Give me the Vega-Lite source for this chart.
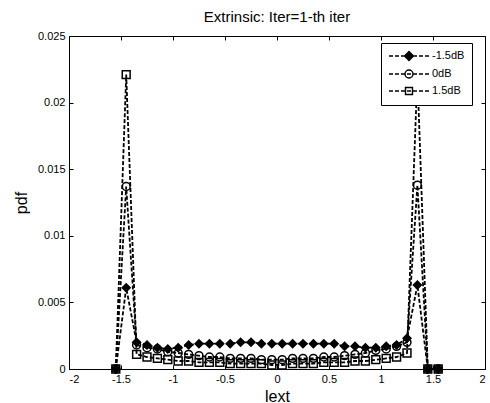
{
  "$schema": "https://vega.github.io/schema/vega-lite/v6.json",
  "width": 416,
  "height": 333,
  "autosize": {"type": "none"},
  "padding": {"left": 69, "top": 36, "right": 5, "bottom": 34},
  "background": "white",
  "title": {"text": "Extrinsic: Iter=1-th iter", "fontSize": 15, "font": "Liberation Sans", "fontWeight": "normal", "color": "black", "frame": "group", "offset": 5, "anchor": "middle"},
  "config": {
    "view": {"stroke": "black", "strokeWidth": 1},
    "axis": {"domainColor": "black", "tickColor": "black", "labelColor": "black", "labelFont": "Liberation Sans", "labelFontSize": 11, "titleFont": "Liberation Sans", "titleFontSize": 16, "titleFontWeight": "normal", "titleColor": "black", "grid": false, "tickSize": -4, "labelPadding": 8}
  },
  "data": {"values": [
    {"x": -1.55, "pdf": 0, "series": "-1.5dB"},
    {"x": -1.45, "pdf": 0.0061, "series": "-1.5dB"},
    {"x": -1.35, "pdf": 0.0020, "series": "-1.5dB"},
    {"x": -1.25, "pdf": 0.0018, "series": "-1.5dB"},
    {"x": -1.15, "pdf": 0.0016, "series": "-1.5dB"},
    {"x": -1.05, "pdf": 0.0015, "series": "-1.5dB"},
    {"x": -0.95, "pdf": 0.0016, "series": "-1.5dB"},
    {"x": -0.85, "pdf": 0.0018, "series": "-1.5dB"},
    {"x": -0.75, "pdf": 0.0019, "series": "-1.5dB"},
    {"x": -0.65, "pdf": 0.0019, "series": "-1.5dB"},
    {"x": -0.55, "pdf": 0.0019, "series": "-1.5dB"},
    {"x": -0.45, "pdf": 0.0019, "series": "-1.5dB"},
    {"x": -0.35, "pdf": 0.0020, "series": "-1.5dB"},
    {"x": -0.25, "pdf": 0.0020, "series": "-1.5dB"},
    {"x": -0.15, "pdf": 0.0019, "series": "-1.5dB"},
    {"x": -0.05, "pdf": 0.0019, "series": "-1.5dB"},
    {"x": 0.05, "pdf": 0.0019, "series": "-1.5dB"},
    {"x": 0.15, "pdf": 0.0019, "series": "-1.5dB"},
    {"x": 0.25, "pdf": 0.0019, "series": "-1.5dB"},
    {"x": 0.35, "pdf": 0.0019, "series": "-1.5dB"},
    {"x": 0.45, "pdf": 0.0019, "series": "-1.5dB"},
    {"x": 0.55, "pdf": 0.0019, "series": "-1.5dB"},
    {"x": 0.65, "pdf": 0.0017, "series": "-1.5dB"},
    {"x": 0.75, "pdf": 0.0017, "series": "-1.5dB"},
    {"x": 0.85, "pdf": 0.0016, "series": "-1.5dB"},
    {"x": 0.95, "pdf": 0.0016, "series": "-1.5dB"},
    {"x": 1.05, "pdf": 0.0017, "series": "-1.5dB"},
    {"x": 1.15, "pdf": 0.0018, "series": "-1.5dB"},
    {"x": 1.25, "pdf": 0.0023, "series": "-1.5dB"},
    {"x": 1.35, "pdf": 0.0063, "series": "-1.5dB"},
    {"x": 1.45, "pdf": 0, "series": "-1.5dB"},
    {"x": 1.55, "pdf": 0, "series": "-1.5dB"},
    {"x": -1.55, "pdf": 0, "series": "0dB"},
    {"x": -1.45, "pdf": 0.0137, "series": "0dB"},
    {"x": -1.35, "pdf": 0.0018, "series": "0dB"},
    {"x": -1.25, "pdf": 0.0016, "series": "0dB"},
    {"x": -1.15, "pdf": 0.0015, "series": "0dB"},
    {"x": -1.05, "pdf": 0.0013, "series": "0dB"},
    {"x": -0.95, "pdf": 0.0012, "series": "0dB"},
    {"x": -0.85, "pdf": 0.0011, "series": "0dB"},
    {"x": -0.75, "pdf": 0.0010, "series": "0dB"},
    {"x": -0.65, "pdf": 0.0009, "series": "0dB"},
    {"x": -0.55, "pdf": 0.0009, "series": "0dB"},
    {"x": -0.45, "pdf": 0.0008, "series": "0dB"},
    {"x": -0.35, "pdf": 0.0008, "series": "0dB"},
    {"x": -0.25, "pdf": 0.0008, "series": "0dB"},
    {"x": -0.15, "pdf": 0.0007, "series": "0dB"},
    {"x": -0.05, "pdf": 0.0007, "series": "0dB"},
    {"x": 0.05, "pdf": 0.0007, "series": "0dB"},
    {"x": 0.15, "pdf": 0.0008, "series": "0dB"},
    {"x": 0.25, "pdf": 0.0008, "series": "0dB"},
    {"x": 0.35, "pdf": 0.0008, "series": "0dB"},
    {"x": 0.45, "pdf": 0.0009, "series": "0dB"},
    {"x": 0.55, "pdf": 0.0009, "series": "0dB"},
    {"x": 0.65, "pdf": 0.0010, "series": "0dB"},
    {"x": 0.75, "pdf": 0.0011, "series": "0dB"},
    {"x": 0.85, "pdf": 0.0012, "series": "0dB"},
    {"x": 0.95, "pdf": 0.0014, "series": "0dB"},
    {"x": 1.05, "pdf": 0.0015, "series": "0dB"},
    {"x": 1.15, "pdf": 0.0017, "series": "0dB"},
    {"x": 1.25, "pdf": 0.0020, "series": "0dB"},
    {"x": 1.35, "pdf": 0.0138, "series": "0dB"},
    {"x": 1.45, "pdf": 0, "series": "0dB"},
    {"x": 1.55, "pdf": 0, "series": "0dB"},
    {"x": -1.55, "pdf": 0, "series": "1.5dB"},
    {"x": -1.45, "pdf": 0.0221, "series": "1.5dB"},
    {"x": -1.35, "pdf": 0.0011, "series": "1.5dB"},
    {"x": -1.25, "pdf": 0.0009, "series": "1.5dB"},
    {"x": -1.15, "pdf": 0.0008, "series": "1.5dB"},
    {"x": -1.05, "pdf": 0.0007, "series": "1.5dB"},
    {"x": -0.95, "pdf": 0.0006, "series": "1.5dB"},
    {"x": -0.85, "pdf": 0.0006, "series": "1.5dB"},
    {"x": -0.75, "pdf": 0.0005, "series": "1.5dB"},
    {"x": -0.65, "pdf": 0.0005, "series": "1.5dB"},
    {"x": -0.55, "pdf": 0.0005, "series": "1.5dB"},
    {"x": -0.45, "pdf": 0.0004, "series": "1.5dB"},
    {"x": -0.35, "pdf": 0.0004, "series": "1.5dB"},
    {"x": -0.25, "pdf": 0.0004, "series": "1.5dB"},
    {"x": -0.15, "pdf": 0.0004, "series": "1.5dB"},
    {"x": -0.05, "pdf": 0.0003, "series": "1.5dB"},
    {"x": 0.05, "pdf": 0.0003, "series": "1.5dB"},
    {"x": 0.15, "pdf": 0.0004, "series": "1.5dB"},
    {"x": 0.25, "pdf": 0.0004, "series": "1.5dB"},
    {"x": 0.35, "pdf": 0.0004, "series": "1.5dB"},
    {"x": 0.45, "pdf": 0.0005, "series": "1.5dB"},
    {"x": 0.55, "pdf": 0.0005, "series": "1.5dB"},
    {"x": 0.65, "pdf": 0.0005, "series": "1.5dB"},
    {"x": 0.75, "pdf": 0.0006, "series": "1.5dB"},
    {"x": 0.85, "pdf": 0.0006, "series": "1.5dB"},
    {"x": 0.95, "pdf": 0.0007, "series": "1.5dB"},
    {"x": 1.05, "pdf": 0.0008, "series": "1.5dB"},
    {"x": 1.15, "pdf": 0.0009, "series": "1.5dB"},
    {"x": 1.25, "pdf": 0.0012, "series": "1.5dB"},
    {"x": 1.35, "pdf": 0.0221, "series": "1.5dB"},
    {"x": 1.45, "pdf": 0, "series": "1.5dB"},
    {"x": 1.55, "pdf": 0, "series": "1.5dB"}
  ]},
  "resolve": {"axis": {"x": "independent", "y": "independent"}, "scale": {"shape": "independent"}},
  "layer": [
    {
      "mark": {"type": "line", "strokeDash": [4, 2], "strokeWidth": 1.8, "color": "black"},
      "encoding": {
        "x": {"field": "x", "type": "quantitative", "scale": {"domain": [-2, 2], "nice": false, "zero": false}, "axis": {"values": [-2, -1.5, -1, -0.5, 0, 0.5, 1, 1.5, 2], "labelExpr": "'' + datum.value", "title": "lext", "titlePadding": 4}},
        "y": {"field": "pdf", "type": "quantitative", "scale": {"domain": [0, 0.025], "nice": false}, "axis": {"values": [0, 0.005, 0.01, 0.015, 0.02, 0.025], "labelExpr": "'' + datum.value", "title": "pdf", "titlePadding": 8}},
        "detail": {"field": "series"}
      }
    },
    {
      "mark": {"type": "point", "filled": true, "stroke": "black", "strokeWidth": 1.5, "size": 62, "opacity": 1},
      "encoding": {
        "x": {"field": "x", "type": "quantitative", "scale": {"domain": [-2, 2], "nice": false, "zero": false}, "axis": {"orient": "top", "values": [-2, -1.5, -1, -0.5, 0, 0.5, 1, 1.5, 2], "labels": false, "title": null, "domain": false}},
        "y": {"field": "pdf", "type": "quantitative", "scale": {"domain": [0, 0.025], "nice": false}, "axis": {"orient": "right", "values": [0, 0.005, 0.01, 0.015, 0.02, 0.025], "labels": false, "title": null, "domain": false}},
        "shape": {"field": "series", "type": "nominal", "scale": {"domain": ["-1.5dB", "0dB", "1.5dB"], "range": ["diamond", "circle", "square"]}, "legend": null},
        "fill": {"field": "series", "type": "nominal", "scale": {"domain": ["-1.5dB", "0dB", "1.5dB"], "range": ["black", "transparent", "transparent"]}, "legend": null}
      }
    },
    {
      "mark": {"type": "point", "filled": false, "stroke": "black", "strokeWidth": 1.3, "size": 100, "opacity": 0},
      "encoding": {
        "x": {"field": "x", "type": "quantitative", "scale": {"domain": [-2, 2], "nice": false, "zero": false}, "axis": null},
        "y": {"field": "pdf", "type": "quantitative", "scale": {"domain": [0, 0.025], "nice": false}, "axis": null},
        "shape": {"field": "series", "type": "nominal",
          "scale": {"domain": ["-1.5dB", "0dB", "1.5dB"], "range": [
            "M-1,0H-0.2M0.2,0H1M1.4,0H2.2M2.6,0H3.4M3.8,0H4.6M5,0H5.8M6.2,0H7M3,-0.9L3.9,0L3,0.9L2.1,0ZM3,-0.6L3.6,0L3,0.6L2.4,0ZM3,-0.3L3.3,0L3,0.3L2.7,0Z",
            "M-1,0H-0.2M0.2,0H1M1.4,0H2.2M2.6,0H3.4M3.8,0H4.6M5,0H5.8M6.2,0H7M3.8,0A0.8,0.8,0,1,1,2.2,0A0.8,0.8,0,1,1,3.8,0Z",
            "M-1,0H-0.2M0.2,0H1M1.4,0H2.2M2.6,0H3.4M3.8,0H4.6M5,0H5.8M6.2,0H7M2.3,-0.7H3.7V0.7H2.3Z"
          ]},
          "legend": {"title": null, "orient": "none", "legendX": 312, "legendY": 7, "strokeColor": "black", "fillColor": "white", "padding": 7, "labelFont": "Liberation Sans", "labelFontSize": 11, "labelColor": "black", "symbolStrokeColor": "black", "symbolFillColor": "transparent", "symbolStrokeWidth": 1.4, "symbolSize": 100, "symbolOpacity": 1, "rowPadding": 3, "labelOffset": 32}}
      }
    }
  ]
}
